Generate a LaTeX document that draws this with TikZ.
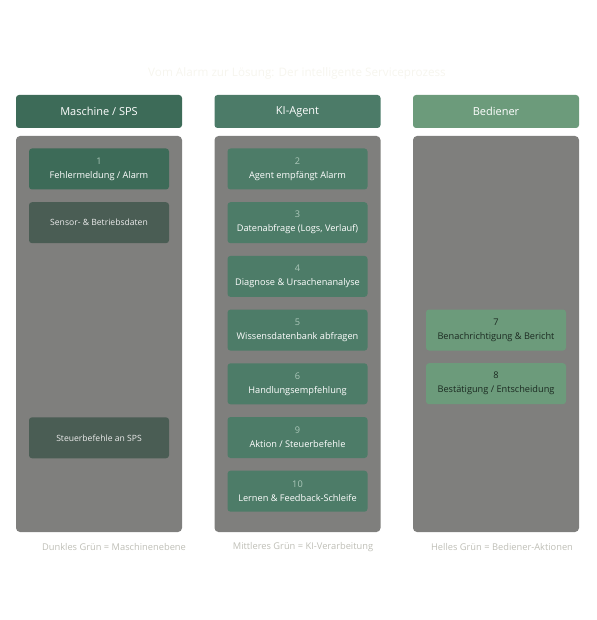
\documentclass[tikz,border=0pt]{standalone}
\usepackage{fontspec}
\setmainfont{Open Sans}
\usepackage{tikz}
\usetikzlibrary{positioning}
\usepackage{xcolor}
\definecolor{lanegray}{RGB}{127,127,125}
\definecolor{hdrdark}{RGB}{61,107,88}
\definecolor{hdrmid}{RGB}{76,123,104}
\definecolor{hdrlight}{RGB}{108,155,123}
\definecolor{boxdark}{RGB}{61,107,88}
\definecolor{boxsensor}{RGB}{74,93,84}
\definecolor{boxmid}{RGB}{77,124,104}
\definecolor{boxlight}{RGB}{108,155,123}
\definecolor{numlight}{RGB}{172,200,186}
\definecolor{txtdark}{RGB}{28,43,34}
\definecolor{legendgray}{RGB}{190,190,182}
\definecolor{titlewhite}{RGB}{246,245,238}
\tikzstyle{header} = [rectangle, rounded corners=3pt, minimum width=166pt, minimum height=33pt, text centered, text=white, font=\fontsize{11}{13}\selectfont]
\tikzstyle{lane} = [rectangle, rounded corners=4pt, minimum width=166pt, minimum height=396pt, fill=lanegray]
\tikzstyle{stepbox} = [rectangle, rounded corners=3pt, minimum width=140pt, minimum height=41pt, align=center, text=white, font=\fontsize{9.2}{14}\selectfont]
\tikzstyle{legend} = [text=legendgray, font=\fontsize{9.3}{11}\selectfont]

\begin{document}
\begin{tikzpicture}[x=1pt, y=-1pt, node distance=53.7pt]
\useasboundingbox (0,0) rectangle (596,620);
% Title
\node[text=titlewhite, font=\fontsize{11.7}{14}\selectfont] (title) at (297,73) {Vom Alarm zur Lösung: Der intelligente Serviceprozess};

% Lanes
\node[header, fill=hdrdark] (hmach) at (99,111.5) {Maschine / SPS};
\node[header, fill=hdrmid] (hagent) at (297.5,111.5) {KI-Agent};
\node[header, fill=hdrlight] (huser) at (496,111.5) {Bediener};
\node[lane] (lmach) at (99,334) {};
\node[lane] (lagent) at (297.5,334) {};
\node[lane] (luser) at (496,334) {};

% Maschine / SPS
\node[stepbox, fill=boxdark] (s1) at (99,169) {{\color{numlight}1}\\Fehlermeldung / Alarm};
\node[stepbox, fill=boxsensor, below of=s1, text=white!85!gray, font=\fontsize{8.6}{10}\selectfont] (sensor) {Sensor- \& Betriebsdaten};
\node[stepbox, fill=boxsensor, text=white!85!gray, font=\fontsize{8.6}{10}\selectfont] (ctrl) at (99,437.8) {Steuerbefehle an SPS};

% KI-Agent
\node[stepbox, fill=boxmid] (s2) at (297.5,169) {{\color{numlight}2}\\Agent empfängt Alarm};
\node[stepbox, fill=boxmid, below of=s2] (s3) {{\color{numlight}3}\\Datenabfrage (Logs, Verlauf)};
\node[stepbox, fill=boxmid, below of=s3] (s4) {{\color{numlight}4}\\Diagnose \& Ursachenanalyse};
\node[stepbox, fill=boxmid, below of=s4] (s5) {{\color{numlight}5}\\Wissensdatenbank abfragen};
\node[stepbox, fill=boxmid, below of=s5] (s6) {{\color{numlight}6}\\Handlungsempfehlung};
\node[stepbox, fill=boxmid, below of=s6] (s9) {{\color{numlight}9}\\Aktion / Steuerbefehle};
\node[stepbox, fill=boxmid, below of=s9] (s10) {{\color{numlight}10}\\Lernen \& Feedback-Schleife};

% Bediener
\node[stepbox, fill=boxlight, text=txtdark] (s7) at (496,330) {7\\Benachrichtigung \& Bericht};
\node[stepbox, fill=boxlight, text=txtdark, below of=s7] (s8) {8\\Bestätigung / Entscheidung};

% Legend
\node[legend] (gmach) at (114,547) {Dunkles Grün = Maschinenebene};
\node[legend] (gagent) at (303,547) {Mittleres Grün = KI-Verarbeitung};
\node[legend] (guser) at (502,547) {Helles Grün = Bediener-Aktionen};
\end{tikzpicture}
\end{document}
